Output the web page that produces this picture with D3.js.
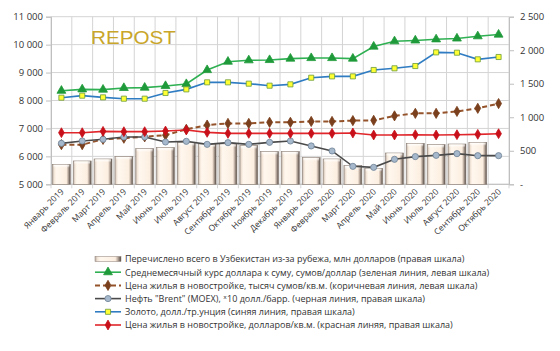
<!DOCTYPE html>
<html>
<head>
<meta charset="utf-8">
<script src="https://cdn.jsdelivr.net/npm/d3@7"></script>
<style>
  body { margin: 0; background: #fff; }
  svg text { font-family: "Open Sans", "DejaVu Sans", sans-serif; fill: #333; }
  svg text.logo { font-family: "Liberation Sans", Arial, sans-serif; fill: #c9a62a; }
</style>
</head>
<body>
<div id="chart"></div>
<script>
let months = ['Январь 2019', 'Февраль 2019', 'Март 2019', 'Апрель 2019', 'Май 2019', 'Июнь 2019',
    'Июль 2019', 'Август 2019', 'Сентябрь 2019', 'Октябрь 2019', 'Ноябрь 2019', 'Декабрь 2019',
    'Январь 2020', 'Февраль 2020', 'Март 2020', 'Апрель 2020', 'Май 2020', 'Июнь 2020',
    'Июль 2020', 'Август 2020', 'Сентябрь 2020', 'Октябрь 2020'];

// right scale
let transfers = [298, 348, 378, 413, 532, 547, 621, 601, 601, 577, 487, 487,
    398, 378, 278, 239, 467, 611, 592, 601, 626, null];
// left scale
let usdRate = [8350, 8400, 8390, 8450, 8460, 8520, 8590, 9090, 9390, 9440, 9450, 9500,
    9520, 9520, 9500, 9930, 10120, 10150, 10190, 10220, 10300, 10360];
// left scale
let priceSum = [6420, 6420, 6610, 6650, 6700, 6760, 6970, 7120, 7180, 7180, 7220, 7220,
    7250, 7250, 7280, 7290, 7450, 7540, 7540, 7610, 7720, 7890];
// right scale
let brent = [611, 646, 671, 706, 706, 631, 641, 596, 621, 596, 626, 646,
    572, 497, 268, 253, 373, 413, 432, 457, 427, 427];
// right scale
let gold = [1292, 1322, 1297, 1277, 1277, 1362, 1416, 1521, 1521, 1501, 1471, 1491,
    1590, 1610, 1610, 1705, 1730, 1764, 1968, 1963, 1864, 1899];
// right scale
let priceUsd = [770, 770, 790, 785, 785, 795, 810, 775, 760, 760, 760, 760,
    760, 760, 765, 735, 735, 740, 735, 740, 745, 755];

let leftTicks = [5000, 6000, 7000, 8000, 9000, 10000, 11000];
let rightTicks = [0, 500, 1000, 1500, 2000, 2500];

let legendLabels = [
    'Перечислено всего в Узбекистан из-за рубежа, млн долларов (правая шкала)',
    'Среднемесячный курс доллара к суму, сумов/доллар (зеленая линия, левая шкала)',
    'Цена жилья в новостройке, тысяч сумов/кв.м. (коричневая линия, левая шкала)',
    'Нефть "Brent" (MOEX), \u02E310 долл./барр. (черная линия, правая шкала)',
    'Золото, долл./тр.унция (синяя линия, правая шкала)',
    'Цена жилья в новостройке, долларов/кв.м. (красная линяя, правая шкала)'
];

let width = 560, height = 351,
    margin = {top: 16.7, left: 51, bottom: 166.7, right: 51},
    plotW = width - margin.left - margin.right,
    plotH = height - margin.top - margin.bottom;

let fmt = v => v === 0 ? '-' : d3.format(',')(v).replace(/,/g, '\u00a0');

let svg = d3.select('#chart').append('svg')
    .attr('width', width)
    .attr('height', height);

let defs = svg.append('defs');
let grad = defs.append('linearGradient').attr('id', 'barGrad')
    .attr('x1', 0).attr('x2', 1).attr('y1', 0).attr('y2', 0);
[['0%', '#b9aca2'], ['10%', '#f3e6d8'], ['20%', '#fff7ee'], ['78%', '#fcefe1'],
 ['88%', '#b8a89c'], ['100%', '#4f4640']].forEach(s =>
    grad.append('stop').attr('offset', s[0]).attr('stop-color', s[1]));
let gradV = defs.append('linearGradient').attr('id', 'barTop')
    .attr('x1', 0).attr('x2', 0).attr('y1', 0).attr('y2', 1);
[['0%', '#ffffff', 0.9], ['100%', '#ffffff', 0]].forEach(s =>
    gradV.append('stop').attr('offset', s[0]).attr('stop-color', s[1]).attr('stop-opacity', s[2]));

let g = svg.append('g')
    .attr('transform', `translate(${margin.left}, ${margin.top})`);

let xScale = d3.scaleBand()
    .domain(months)
    .range([0, plotW]);

let yLeft = d3.scaleLinear()
    .domain([5000, 11000])
    .range([plotH, 0]);

let yRight = d3.scaleLinear()
    .domain([0, 2500])
    .range([plotH, 0]);

let cx = d => xScale(d) + xScale.bandwidth() / 2;

// grid
g.append('g').selectAll('line.h')
    .data(leftTicks)
    .join('line')
    .attr('x1', 0).attr('x2', plotW)
    .attr('y1', d => yLeft(d)).attr('y2', d => yLeft(d))
    .attr('stroke', '#d4d4d4').attr('stroke-width', 1);

g.append('g').selectAll('line.v')
    .data(d3.range(months.length + 1))
    .join('line')
    .attr('x1', i => i * xScale.step()).attr('x2', i => i * xScale.step())
    .attr('y1', 0).attr('y2', plotH + 4)
    .attr('stroke', '#d4d4d4').attr('stroke-width', 1);

// left axis
let leftAxis = g.append('g')
    .call(d3.axisLeft(yLeft).tickValues(leftTicks).tickFormat(fmt).tickSize(5).tickPadding(3));
leftAxis.select('.domain').attr('stroke', '#bfbfbf');
leftAxis.selectAll('.tick line').attr('stroke', '#bfbfbf');
leftAxis.selectAll('text').attr('font-size', 9.5).style('fill', '#333');

// right axis
let rightAxis = g.append('g')
    .attr('transform', `translate(${plotW}, 0)`)
    .call(d3.axisRight(yRight).tickValues(rightTicks).tickFormat(fmt).tickSize(5).tickPadding(6));
rightAxis.select('.domain').attr('stroke', '#bfbfbf');
rightAxis.selectAll('.tick line').attr('stroke', '#bfbfbf');
rightAxis.selectAll('text').attr('font-size', 9.5).style('fill', '#333');

// bottom
g.append('line')
    .attr('x1', 0).attr('x2', plotW)
    .attr('y1', plotH).attr('y2', plotH)
    .attr('stroke', '#bfbfbf');

// x labels
g.append('g').selectAll('text')
    .data(months)
    .join('text')
    .attr('transform', d => `translate(${cx(d) + 3}, ${plotH + 8}) rotate(-45)`)
    .attr('text-anchor', 'end')
    .attr('font-size', 8.5)
    .text(d => d);

// bars
let barW = xScale.bandwidth() * 0.86;
let barData = months.map((m, i) => ({m: m, v: transfers[i]})).filter(d => d.v != null);
let bars = g.append('g');
bars.selectAll('rect.b')
    .data(barData)
    .join('rect')
    .attr('x', d => cx(d.m) - barW / 2)
    .attr('y', d => yRight(d.v))
    .attr('width', barW)
    .attr('height', d => plotH - yRight(d.v))
    .attr('fill', 'url(#barGrad)')
    .attr('stroke', '#8a7d74')
    .attr('stroke-width', 0.6);
bars.selectAll('rect.t')
    .data(barData)
    .join('rect')
    .attr('x', d => cx(d.m) - barW / 2 + 1)
    .attr('y', d => yRight(d.v) + 0.5)
    .attr('width', barW - 2)
    .attr('height', 3)
    .attr('fill', 'url(#barTop)');

// series
let series = [
    {vals: usdRate, y: yLeft, color: '#2fb052', dash: null, marker: 'triangle', fill: '#1f9a3a', stroke: '#1f9a3a', size: 34},
    {vals: priceSum, y: yLeft, color: '#94532a', dash: '5,3', marker: 'diamond', fill: '#7a3f1c', stroke: '#7a3f1c', size: 30},
    {vals: brent, y: yRight, color: '#4a4a4a', dash: null, marker: 'circle', fill: '#a6b8cc', stroke: '#6f8194', size: 30},
    {vals: gold, y: yRight, color: '#2f7cc2', dash: null, marker: 'square', fill: '#ffff33', stroke: '#6b9a3a', size: 26},
    {vals: priceUsd, y: yRight, color: '#e0262b', dash: null, marker: 'diamond', fill: '#c8101a', stroke: '#c8101a', size: 28}
];

let symbolType = {
    triangle: d3.symbolTriangle,
    diamond: d3.symbolDiamond,
    circle: d3.symbolCircle,
    square: d3.symbolSquare
};

series.forEach(s => {
    let pts = months.map((m, i) => [cx(m), s.y(s.vals[i])]);
    g.append('path')
        .attr('d', d3.line()(pts))
        .attr('fill', 'none')
        .attr('stroke', s.color)
        .attr('stroke-width', s.dash ? 2 : 1.6)
        .attr('stroke-dasharray', s.dash);
    g.append('g').selectAll('path')
        .data(pts)
        .join('path')
        .attr('transform', d => `translate(${d[0]}, ${d[1]})`)
        .attr('d', d3.symbol().type(symbolType[s.marker]).size(s.size))
        .attr('fill', s.fill)
        .attr('stroke', s.stroke)
        .attr('stroke-width', 0.8);
});

// logo
svg.append('text')
    .attr('class', 'logo')
    .attr('x', 91).attr('y', 44)
    .attr('font-size', 19)
    .attr('textLength', 85)
    .attr('lengthAdjust', 'spacingAndGlyphs')
    .text('REPOST');

// legend
let legend = svg.append('g').attr('transform', 'translate(95, 259)');
let rowH = 13.2;
legendLabels.forEach((label, i) => {
    let row = legend.append('g').attr('transform', `translate(0, ${i * rowH})`);
    if (i === 0) {
        row.append('rect')
            .attr('x', 0).attr('y', -2.5).attr('width', 26).attr('height', 5)
            .attr('fill', 'url(#barGrad)').attr('stroke', '#8a7d74').attr('stroke-width', 0.5);
    } else {
        let s = series[i - 1];
        row.append('line')
            .attr('x1', 0).attr('x2', 26).attr('y1', 0).attr('y2', 0)
            .attr('stroke', s.color).attr('stroke-width', s.dash ? 2 : 1.6)
            .attr('stroke-dasharray', s.dash);
        row.append('path')
            .attr('transform', 'translate(13, 0)')
            .attr('d', d3.symbol().type(symbolType[s.marker]).size(s.size))
            .attr('fill', s.fill).attr('stroke', s.stroke).attr('stroke-width', 0.8);
    }
    row.append('text')
        .attr('x', 30).attr('y', 3.3)
        .attr('font-size', 9)
        .text(label);
});
</script>
</body>
</html>
